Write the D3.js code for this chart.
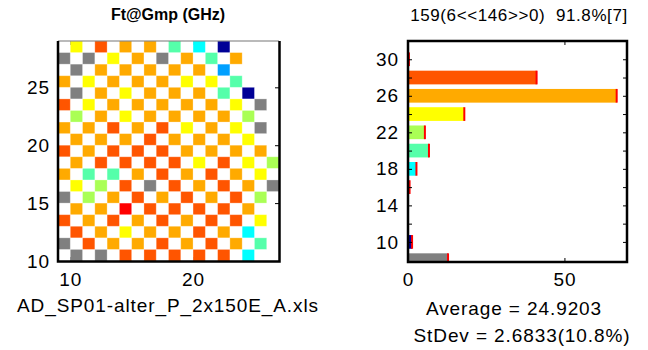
<!DOCTYPE html>
<html>
<head>
<meta charset="utf-8">
<script src="https://cdn.jsdelivr.net/npm/d3@7/dist/d3.min.js"></script>
<style>
  body { margin: 0; background: #fff; }
  text { font-family: "Liberation Sans", Arial, sans-serif; fill: #000; }
</style>
</head>
<body>
<svg id="chart" width="648" height="350"></svg>
<script>
// colour codes used by the wafer map and the histogram
const palette = {
  G: "#808080", N: "#000096", B: "#00a0ff", C: "#00ffff", A: "#55ffaa",
  L: "#aaff55", Y: "#ffff00", O: "#ffaa00", R: "#ff5500", X: "#ff0000"
};

// wafer map: one string per row (top row first), one char per column
const mapCols = [9, 10, 11, 12, 13, 14, 15, 16, 17, 18, 19, 20, 21, 22, 23, 24, 25, 26];
const mapRowY = [28, 27, 26, 25, 24, 23, 22, 21, 20, 19, 18, 17, 16, 15, 14, 13, 12, 11, 10];
const mapRows = [
  ".Y.R.O.O.A.C.N....",
  "G.G.Y.O.G.O.A.O...",
  ".G.O.O.O.O.O.B....",
  "O.Y.O.O.O.Y.Y.A...",
  ".G.O.Y.O.O.O.A.N..",
  "R.Y.O.O.O.O.O.Y.G.",
  ".L.O.Y.O.O.O.O.L..",
  "O.O.R.O.R.Y.O.Y.G.",
  ".O.O.O.R.O.O.O.Y..",
  "R.O.R.R.R.O.O.O.O.",
  ".O.R.R.R.R.Y.R.Y.L",
  "O.A.A.O.R.O.R.O.Y.",
  ".Y.L.R.G.R.O.R.O.G",
  "G.L.O.R.O.R.O.R.L.",
  ".O.O.X.R.R.R.R.O..",
  "R.O.R.O.R.O.R.R.Y.",
  ".R.O.Y.O.O.R.O.C..",
  "G.R.O.O.R.O.R.O.A.",
  ".G.G.R.R.R.R.R.C.."
];
const mapXTicks = [10, 20];
const mapYTicks = [10, 15, 20, 25];

// histogram of the same values
const histBins = [8, 10, 12, 14, 16, 18, 20, 22, 24, 26, 28, 30];
const histCounts = [12.8, 1.3, 0, 0, 0.5, 2.7, 6.7, 5.4, 18, 66.7, 41.1, 0.3];
const histColors = ["G", "N", "N", "B", "B", "C", "A", "L", "Y", "O", "R", "X"];
const histYTicks = [10, 12, 14, 16, 18, 20, 22, 24, 26, 28, 30];
const histYLabels = [10, 14, 18, 22, 26, 30];
const histXTicks = [0, 50];

const svg = d3.select("#chart");

// ---------- left: wafer map ----------
const mx = d3.scaleLinear().domain([9, 27]).range([58, 279]);
const my = d3.scaleLinear().domain([10, 29]).range([261, 41]);

const cells = [];
mapRows.forEach((row, r) => {
  row.split("").forEach((code, c) => {
    if (code !== ".") cells.push({ i: mapCols[c], j: mapRowY[r], code });
  });
});

// inward ticks first so the dies sit on top of them
svg.append("g")
  .attr("transform", "translate(279,0)")
  .call(d3.axisLeft(my).tickValues(mapYTicks).tickSize(4).tickFormat(""))
  .call(g => g.select(".domain").remove());
svg.append("g")
  .attr("transform", "translate(0,41)")
  .call(d3.axisBottom(mx).tickValues(mapXTicks).tickSize(4).tickFormat(""))
  .call(g => g.select(".domain").remove());
svg.append("g")
  .attr("transform", "translate(0,261)")
  .call(d3.axisTop(mx).tickValues(mapXTicks).tickSize(4).tickFormat(""))
  .call(g => g.select(".domain").remove());

svg.append("g")
  .selectAll("rect")
  .data(cells)
  .join("rect")
  .attr("x", d => mx(d.i))
  .attr("y", d => my(d.j + 1))
  .attr("width", d => mx(d.i + 1) - mx(d.i))
  .attr("height", d => my(d.j) - my(d.j + 1))
  .attr("fill", d => palette[d.code])
  .attr("stroke", "#fff")
  .attr("stroke-opacity", 0.35)
  .attr("stroke-width", 0.8);

// labels
const mapYAxis = svg.append("g")
  .attr("transform", "translate(58,0)")
  .call(d3.axisLeft(my).tickValues(mapYTicks).tickSize(0).tickPadding(8));
const mapXAxis = svg.append("g")
  .attr("transform", "translate(0,261)")
  .call(d3.axisBottom(mx).tickValues(mapXTicks).tickSize(0).tickPadding(12));
[mapYAxis, mapXAxis].forEach(g => {
  g.select(".domain").remove();
  g.selectAll("text").style("font-size", "19px").style("letter-spacing", "0.9px")
    .style("font-family", "'Liberation Sans', Arial, sans-serif").attr("fill", "#000");
});

// box
svg.append("line").attr("x1", 58).attr("x2", 279).attr("y1", 41).attr("y2", 41)
  .attr("stroke", "#777").attr("stroke-width", 1.2);
svg.append("path")
  .attr("d", "M58,41V261.5H279.5V41")
  .attr("fill", "none").attr("stroke", "#000").attr("stroke-width", 2.5);

svg.append("text")
  .attr("x", 168).attr("y", 20).attr("text-anchor", "middle")
  .style("font-size", "16px").style("font-weight", "bold")
  .text("Ft@Gmp (GHz)");
svg.append("text")
  .attr("x", 168).attr("y", 312).attr("text-anchor", "middle")
  .style("font-size", "19px").style("letter-spacing", "0.9px")
  .text("AD_SP01-alter_P_2x150E_A.xls");

// ---------- right: histogram ----------
const hx = d3.scaleLinear().domain([0, 70]).range([408, 627]);
const hy = d3.scaleLinear().domain([7.8, 32]).range([262, 41]);

svg.append("clipPath").attr("id", "hclip")
  .append("rect").attr("x", 408).attr("y", 41).attr("width", 219).attr("height", 221);

const bars = histBins.map((b, k) => ({ bin: b, n: histCounts[k], code: histColors[k] }))
  .filter(d => d.n > 0);

const barG = svg.append("g").attr("clip-path", "url(#hclip)");
barG.selectAll("rect.bar")
  .data(bars)
  .join("rect")
  .attr("class", "bar")
  .attr("x", hx(0))
  .attr("y", d => hy(d.bin + 0.75))
  .attr("width", d => hx(d.n) - hx(0))
  .attr("height", d => hy(d.bin - 0.75) - hy(d.bin + 0.75))
  .attr("fill", d => palette[d.code]);
barG.selectAll("rect.mark")
  .data(bars)
  .join("rect")
  .attr("class", "mark")
  .attr("x", d => hx(d.n) - 1)
  .attr("y", d => hy(d.bin + 0.75))
  .attr("width", 2)
  .attr("height", d => hy(d.bin - 0.75) - hy(d.bin + 0.75))
  .attr("fill", "#ff0000");

// inward tick marks on all four sides
const tickGroups = [
  svg.append("g").attr("transform", "translate(408,0)")
    .call(d3.axisRight(hy).tickValues(histYTicks).tickSize(4).tickFormat("")),
  svg.append("g").attr("transform", "translate(627,0)")
    .call(d3.axisLeft(hy).tickValues(histYTicks).tickSize(4).tickFormat("")),
  svg.append("g").attr("transform", "translate(0,262)")
    .call(d3.axisTop(hx).tickValues(histXTicks).tickSize(4).tickFormat("")),
  svg.append("g").attr("transform", "translate(0,41)")
    .call(d3.axisBottom(hx).tickValues(histXTicks).tickSize(4).tickFormat(""))
];
tickGroups.forEach(g => g.select(".domain").remove());

const histYAxis = svg.append("g")
  .attr("transform", "translate(408,0)")
  .call(d3.axisLeft(hy).tickValues(histYLabels).tickSize(0).tickPadding(9));
const histXAxis = svg.append("g")
  .attr("transform", "translate(0,262)")
  .call(d3.axisBottom(hx).tickValues(histXTicks).tickSize(0).tickPadding(11));
[histYAxis, histXAxis].forEach(g => {
  g.select(".domain").remove();
  g.selectAll("text").style("font-size", "19px").style("letter-spacing", "0.9px")
    .style("font-family", "'Liberation Sans', Arial, sans-serif").attr("fill", "#000");
});

svg.append("rect")
  .attr("x", 408).attr("y", 41).attr("width", 219).attr("height", 221)
  .attr("fill", "none").attr("stroke", "#000").attr("stroke-width", 2.5);

svg.append("text")
  .attr("x", 519).attr("y", 21).attr("text-anchor", "middle")
  .style("font-size", "17px").style("letter-spacing", "0.6px")
  .style("white-space", "pre")
  .text("159(6<<146>>0)  91.8%[7]");
svg.append("text")
  .attr("x", 514).attr("y", 315).attr("text-anchor", "middle")
  .style("font-size", "19px").style("letter-spacing", "0.9px")
  .text("Average = 24.9203");
svg.append("text")
  .attr("x", 522).attr("y", 342).attr("text-anchor", "middle")
  .style("font-size", "19px").style("letter-spacing", "0.9px")
  .text("StDev = 2.6833(10.8%)");
</script>
</body>
</html>
